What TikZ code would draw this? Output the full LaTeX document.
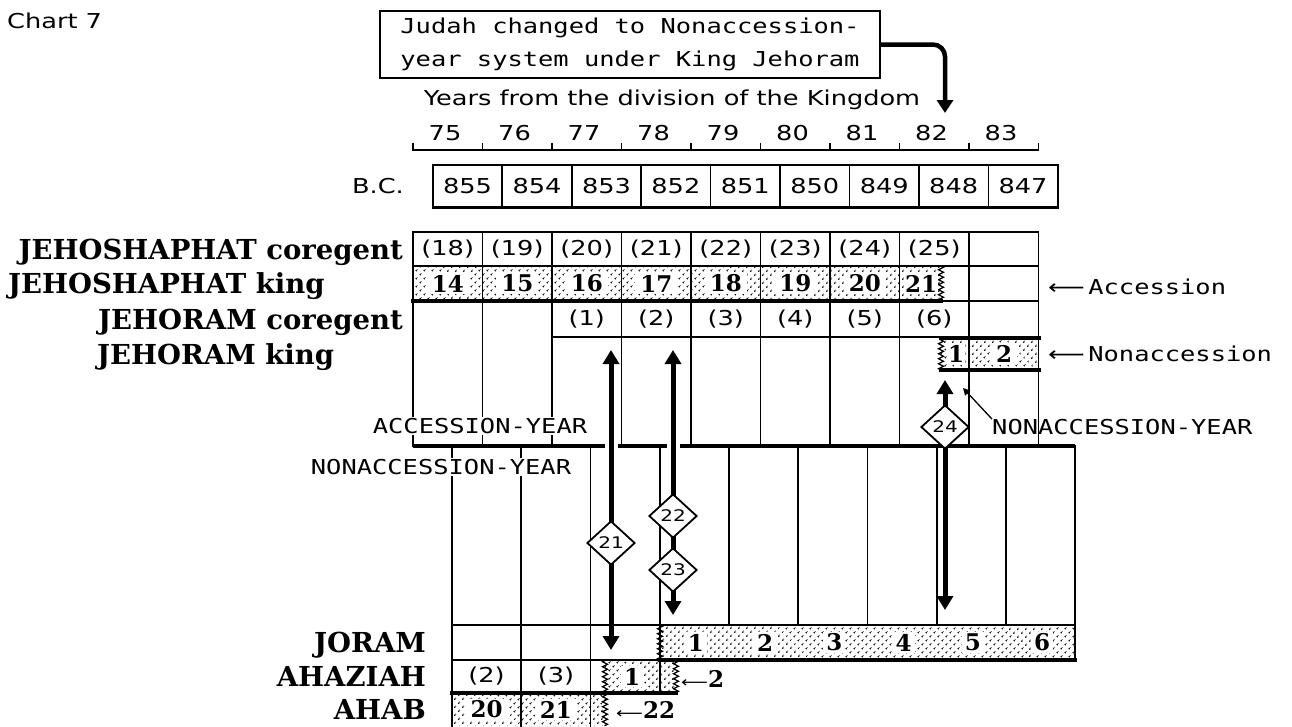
\documentclass[tikz,border=0pt]{standalone}
\usepackage{fontspec}
\usetikzlibrary{arrows.meta,shapes.geometric,patterns.meta,decorations.pathmorphing}
\newfontfamily\genfont[FakeStretch=1.25]{DejaVu Sans}
\newfontfamily\monfont[FakeStretch=1.24]{DejaVu Sans Mono}
\newfontfamily\serfont{DejaVu Serif}

\tikzset{
  gridline/.style={line width=1.7pt, line cap=rect},
  heavy/.style={line width=4pt, line cap=rect},
  dotfill/.style={pattern={Dots[radius=1.1pt,distance=5.4pt,angle=45]}, pattern color=black},
  torn/.style={decoration={zigzag,amplitude=2.5pt,segment length=5pt}},
  tornline/.style={line width=1.2pt, decorate, torn},
  gen/.style={font=\genfont\fontsize{20.5}{24}\selectfont, inner sep=0pt},
  mono/.style={font=\monfont\fontsize{20.5}{33}\selectfont, inner sep=0pt},
  reign/.style={font=\serfont\bfseries\fontsize{27.5}{30}\selectfont, inner sep=0pt},
  yearnum/.style={font=\serfont\bfseries\fontsize{23}{26}\selectfont, fill=white,
    inner xsep=5pt, inner ysep=2pt},
  syncro/.style={diamond, draw, line width=1.8pt, fill=white, minimum width=48pt,
    minimum height=44pt, inner sep=0pt, font=\genfont\fontsize{16}{18}\selectfont},
  bigarrow/.style={line width=5pt,
    {Triangle[width=16pt,length=14pt]}-{Triangle[width=16pt,length=14pt]}},
  note/.style={draw, line width=2pt, minimum width=500pt, minimum height=67pt,
    align=center, font=\monfont\fontsize{20.5}{33}\selectfont, inner sep=0pt},
}

\begin{document}
\begin{tikzpicture}[x=1pt, y=-1pt]
\useasboundingbox (0,0) rectangle (1292,726);

% ---------- heading ----------
\node[gen, anchor=base west] (title) at (7,28) {Chart 7};
\node[note] (change) at (630,44.5) {Judah changed to Nonaccession-\\year system under King Jehoram};
\coordinate (changeTip) at (945,113);
\draw[line width=4.5pt, rounded corners=12pt, -{Triangle[width=16pt,length=13pt]}]
  (change.east) -| (changeTip);
\node[gen] (division) at (672,100) {Years from the division of the Kingdom};

% years from the division, with tick marks
\foreach \n [count=\i from 0] in {75,...,83}
  \node[gen] (yr\n) at ({445+69.5*\i},133) {\n};
\draw[gridline] (413,150) -- (1038.5,150);
\foreach \i in {0,...,9}
  \draw[gridline] ({413+69.5*\i},150) -- ++(0,-6);

% B.C. dates
\node[gen, anchor=east] (bclabel) at (404,186) {B.C.};
\foreach \yr [count=\i from 0] in {855,854,...,847}
  \node[gen, draw, line width=1.7pt, minimum width=69.44pt, minimum height=43pt,
        anchor=north west] (bc\yr) at ({432+69.44*\i},164) {\yr};
\draw[line width=3pt] (432,207.5) -- (1057,207.5);

% ---------- reigns drawn as dotted bars ----------
% Jehoshaphat king (accession reckoning)
\path[dotfill] (413,266) -- (941,266) decorate[torn]{-- (941,301)} -- (413,301) -- cycle;
\draw[tornline] (941,266) -- (941,301);
% Jehoram king (nonaccession reckoning)
\path[dotfill] (941,338) -- (1038.5,338) -- (1038.5,370) -- (941,370) decorate[torn]{-- (941,338)} -- cycle;
\draw[tornline] (941,370) -- (941,338);
% Joram
\path[dotfill] (660,625) -- (1075,625) -- (1075,660) -- (660,660) decorate[torn]{-- (660,625)} -- cycle;
\draw[tornline] (660,660) -- (660,625);
% Ahaziah
\path[dotfill] (605,660) -- (676,660) decorate[torn]{-- (676,693)} -- (605,693) decorate[torn]{-- (605,660)} -- cycle;
\draw[tornline] (676,660) -- (676,693);
\draw[tornline] (605,693) -- (605,660);
% Ahab
\path[dotfill] (452,693) -- (605,693) decorate[torn]{-- (605,726)} -- (452,726) -- cycle;
\draw[tornline] (605,693) -- (605,726);

% ---------- Judah grid ----------
\foreach \i in {0,...,9}
  \draw[gridline] ({413+69.5*\i},232) -- ({413+69.5*\i},446);
\draw[gridline] (413,232) -- (1038.5,232);
\draw[gridline] (413,266) -- (1038.5,266);
\draw[gridline] (413,301) -- (1038.5,301);
\draw[gridline] (552,337) -- (1038.5,337);
\draw[heavy] (413,301) -- (941,301);
\draw[heavy] (941,338) -- (1038.5,338);
\draw[heavy] (941,370) -- (1038.5,370);

% dividing line between the two reckonings
\draw[line width=4.5pt] (413,446) -- (605,446);
\draw[line width=4.5pt] (618,446) -- (667,446);
\draw[line width=4.5pt] (680,446) -- (1075.25,446);

% ---------- Israel grid ----------
\foreach \i in {0,...,9}
  \draw[gridline] ({452+69.25*\i},446) -- ({452+69.25*\i},625);
\foreach \i in {0,1,2}
  \draw[gridline] ({452+69.25*\i},625) -- ({452+69.25*\i},726);
\draw[gridline] (659.75,625) -- (659.75,693);
\draw[gridline] (1075.25,625) -- (1075.25,660);
\draw[line width=2.4pt] (452,625) -- (1075.25,625);
\draw[gridline] (452,660) -- (660,660);
\draw[heavy] (660,660) -- (1075.25,660);
\draw[heavy] (452,693) -- (676,693);

% ---------- year numbers inside the grids ----------
\foreach \n [count=\i from 0] in {18,...,25}
  \node[gen] (jc\n) at ({447.75+69.5*\i},249) {(\n)};
\foreach \n [count=\i from 0] in {14,...,20}
  \node[yearnum] (jk\n) at ({447.75+69.5*\i},283.5) {\n};
\node[yearnum, inner xsep=1pt] (jk21) at (921,283.5) {21};
\foreach \n [count=\i from 2] in {1,...,6}
  \node[gen] (rc\n) at ({447.75+69.5*\i},319) {(\n)};
\node[yearnum, inner xsep=1pt] (rk1) at (956,354) {1};
\node[yearnum] (rk2) at (1004,354) {2};

\foreach \n [count=\i from 3] in {1,...,6}
  \node[yearnum, inner xsep=3pt] (jo\n) at ({488+69.25*\i},642.5) {\n};
\node[gen] (az2p) at (486.6,676.5) {(2)};
\node[gen] (az3p) at (555.9,676.5) {(3)};
\node[yearnum, inner xsep=3pt] (az1) at (632,676.5) {1};
\node[yearnum] (ab20) at (486.6,709.5) {20};
\node[yearnum] (ab21) at (555.9,709.5) {21};

% ---------- synchronism arrows ----------
\coordinate (aTop) at (611,350);  \coordinate (aBot) at (611,650);
\coordinate (bTop) at (673,350);  \coordinate (bBot) at (673,615);
\coordinate (cTop) at (945,380);  \coordinate (cBot) at (945,610);
\draw[bigarrow] (aTop) -- (aBot);
\draw[bigarrow] (bTop) -- (bBot);
\draw[bigarrow] (cTop) -- (cBot);
\node[syncro] (s21) at (611,543) {21};
\node[syncro] (s22) at (673,516) {22};
\node[syncro] (s23) at (673,570) {23};
\node[syncro] (s24) at (945,427) {24};

% ---------- row labels ----------
\node[reign, anchor=base east] (lJc) at (403,259) {JEHOSHAPHAT coregent};
\node[reign, anchor=base west] (lJk) at (8,293.5) {JEHOSHAPHAT king};
\node[reign, anchor=base east] (lRc) at (403,329) {JEHORAM coregent};
\node[reign, anchor=base west] (lRk) at (97,364) {JEHORAM king};
\node[reign, anchor=base east] (lJo) at (426,652.5) {JORAM};
\node[reign, anchor=base east] (lAz) at (426,686.5) {AHAZIAH};
\node[reign, anchor=base east] (lAb) at (426,719.5) {AHAB};

% ---------- side notes ----------
\node[gen, anchor=west] (accNote) at (1048,287) {⟵\,{\monfont Accession}};
\node[gen, anchor=west] (nonNote) at (1048,354) {⟵\,{\monfont Nonaccession}};
\node[mono, fill=white, inner sep=1pt] (accYear) at (480,426) {ACCESSION-YEAR};
\node[mono, fill=white, inner sep=1pt] (nonYearL) at (441,467) {NONACCESSION-YEAR};
\node[mono, anchor=west] (nonYearR) at (992,427) {NONACCESSION-YEAR};
\coordinate (nonYearTip) at (963,388);
\draw[line width=1.3pt, -{Triangle[width=7pt,length=7pt]}] (nonYearR.north west) -- (nonYearTip);
\node[anchor=west, inner sep=0pt] (az2note) at (681,679)
  {{\genfont\fontsize{15}{18}\selectfont ⟵}{\serfont\bfseries\fontsize{23}{26}\selectfont 2}};
\node[anchor=west, inner sep=0pt] (ab22note) at (616,710)
  {{\genfont\fontsize{15}{18}\selectfont ⟵}{\serfont\bfseries\fontsize{23}{26}\selectfont 22}};
\end{tikzpicture}
\end{document}
